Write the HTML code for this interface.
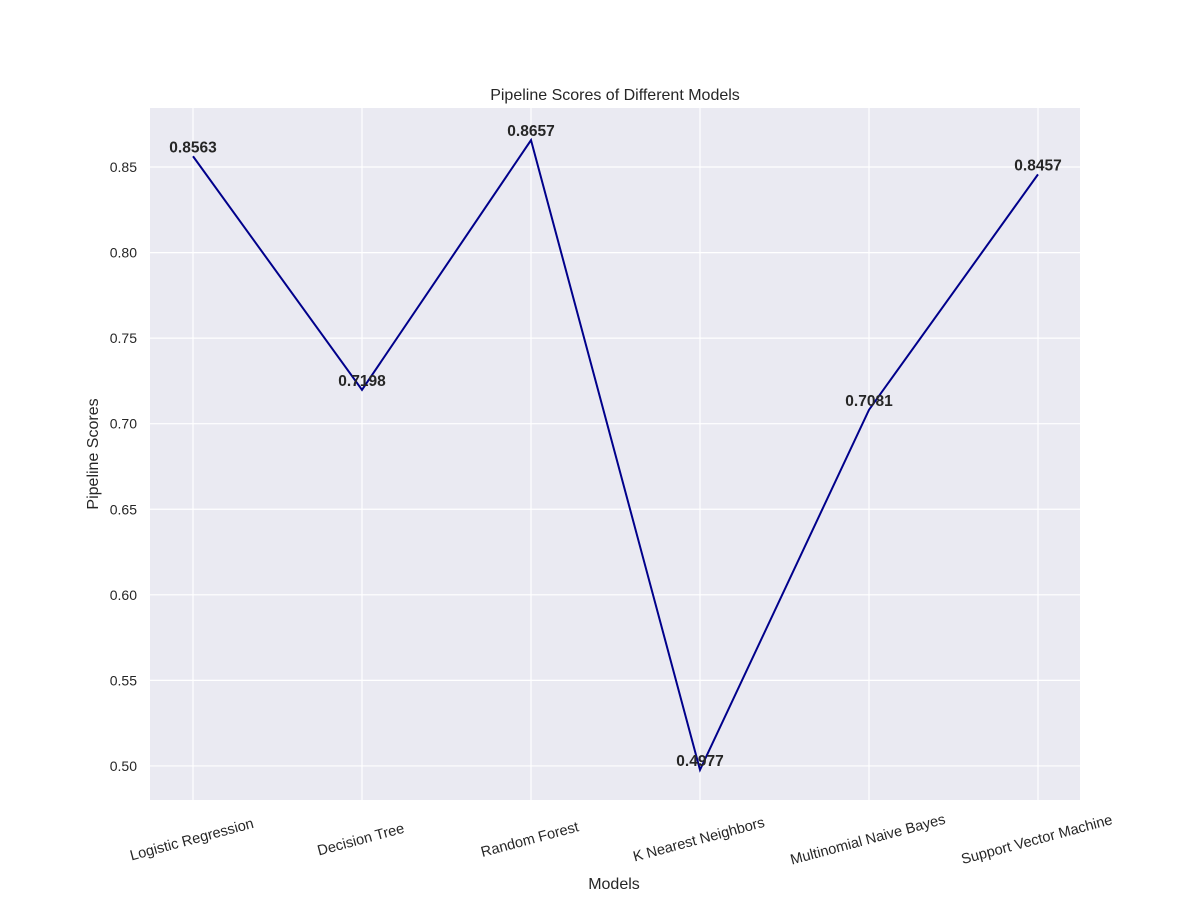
<!DOCTYPE html>
<html><head><meta charset="utf-8"><style>
body{margin:0;background:#fff;}
svg{display:block;font-family:"Liberation Sans","DejaVu Sans",sans-serif;}
</style></head><body>
<svg id="chart" width="1200" height="900">
<rect x="150" y="108" width="930" height="692" fill="#eaeaf2"/>
<g id="grid"></g>
<g id="marks"></g>
<g id="labels"></g>
<text x="615" y="100" text-anchor="middle" font-size="16" fill="#262626">Pipeline Scores of Different Models</text>
<text x="614" y="889" text-anchor="middle" font-size="16" fill="#262626">Models</text>
<text transform="translate(98,454) rotate(-90)" text-anchor="middle" font-size="16" fill="#262626">Pipeline Scores</text>
</svg>
<script>
const categories=["Logistic Regression","Decision Tree","Random Forest","K Nearest Neighbors","Multinomial Naive Bayes","Support Vector Machine"];
const scores=[0.8563,0.7198,0.8657,0.4977,0.7081,0.8457];
const yTicks=[0.50,0.55,0.60,0.65,0.70,0.75,0.80,0.85];
{
const NS="http://www.w3.org/2000/svg";
const yMin=0.4801,yMax=0.8845,plotTop=108,plotBot=800;
function yS(v){return plotBot-(v-yMin)/(yMax-yMin)*(plotBot-plotTop);}
function xS(i){return 193+i*169;}
function mk(t,a,p){const e=document.createElementNS(NS,t);for(const k in a)e.setAttribute(k,a[k]);p.appendChild(e);return e;}
const grid=document.getElementById('grid'),marks=document.getElementById('marks'),labels=document.getElementById('labels');
yTicks.forEach(v=>{
 const l=mk('line',{x1:150,x2:1080,y1:yS(v),y2:yS(v),stroke:'#fff','stroke-width':1.2},grid);
 
 
 const t=mk('text',{x:137,y:yS(v)+5,'text-anchor':'end','font-size':14,fill:'#262626'},grid);
 t.textContent=v.toFixed(2);
 
 
});
categories.forEach((c,i)=>{
 const l=mk('line',{x1:xS(i),x2:xS(i),y1:108,y2:800,stroke:'#fff','stroke-width':1.2},grid);
 
 
 const t=mk('text',{transform:`translate(${xS(i)},844) rotate(-15)`,'text-anchor':'middle','font-size':14.6,fill:'#262626'},grid);
 t.textContent=c;
 
 
});
const pts=scores.map((v,i)=>xS(i)+','+yS(v)).join(' ');
const pl=mk('polyline',{points:pts,fill:'none',stroke:'#00008b','stroke-width':2},marks);


scores.forEach((v,i)=>{
 const t=mk('text',{x:xS(i),y:yS(v)-4,'text-anchor':'middle','font-size':15.5,'font-weight':'bold',fill:'#262626'},labels);
 t.textContent=v.toFixed(4);
 
 
});
}
</script>
</body></html>
